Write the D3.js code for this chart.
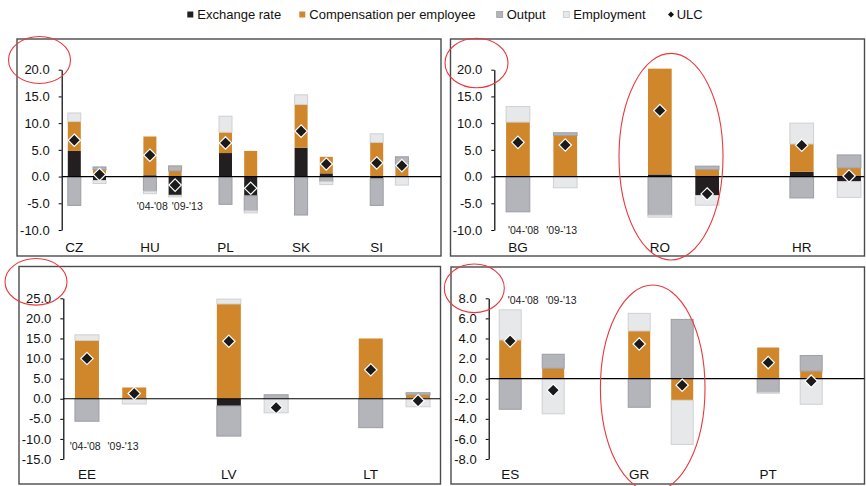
<!DOCTYPE html>
<html>
<head>
<meta charset="utf-8">
<script src="https://cdn.jsdelivr.net/npm/d3@7/dist/d3.min.js"></script>
<style>
  html, body { margin: 0; padding: 0; background: #fff; }
  svg { display: block; font-family: "Liberation Sans", Arial, sans-serif; }
</style>
</head>
<body>
<svg id="chart" width="866" height="486"></svg>
<script>
// ---------------- DATA ----------------
const seriesKeys = ["exch", "comp", "output", "emp"];
const legendLabels = ["Exchange rate", "Compensation per employee", "Output", "Employment", "ULC"];
const periodLabels = ["'04-'08", "'09-'13"];

// Panel 1
const countriesA = ["CZ", "HU", "PL", "SK", "SI"];
const exchA   = [4.8, -0.75, 0.25, -3.5, 4.4, -3.6, 5.4, 0.6, -0.4, 0];
const compA   = [5.5, 1.3, 7.25, 1.05, 3.9, 4.8, 8.1, 3.1, 6.4, 1.75];
const outputA = [-5.4, 0.5, -2.75, 0.95, -5.2, -2.8, -7.2, -0.95, -5.0, 1.95];
const empA    = [1.6, -0.55, -0.45, -0.3, 3.0, -0.4, 1.8, -0.55, 1.6, -1.6];
const ulcA    = [6.8, 0.4, 4.0, -1.6, 6.3, -2.2, 8.5, 2.35, 2.55, 2.05];
const ticksA  = [-10, -5, 0, 5, 10, 15, 20];

// Panel 2
const countriesB = ["BG", "RO", "HR"];
const exchB   = [0, 0, 0.4, -3.55, 0.9, -0.95];
const compB   = [10.2, 7.7, 19.8, 1.3, 5.2, 1.6];
const outputB = [-6.6, 0.5, -7.2, 0.65, -4.0, 2.45];
const empB    = [2.9, -2.1, -0.4, -1.8, 3.9, -2.95];
const ulcB    = [6.4, 5.9, 12.35, -3.25, 5.85, 0.1];
const ticksB  = [-10, -5, 0, 5, 10, 15, 20];

// Panel 3
const countriesC = ["EE", "LV", "LT"];
const exchC   = [0, 0, -1.8, 0, 0, 0];
const compC   = [14.5, 2.8, 23.6, 0, 15.0, 1.0];
const outputC = [-5.6, 0, -7.5, 1.0, -7.2, 0.5];
const empC    = [1.4, -1.3, 1.2, -3.5, 0, -2.0];
const ulcC    = [10.0, 1.3, 14.3, -2.2, 7.2, -0.5];
const ticksC  = [-15, -10, -5, 0, 5, 10, 15, 20, 25];

// Panel 4
const countriesD = ["ES", "GR", "PT"];
const exchD   = [0, 0, 0, 0, 0, 0];
const compD   = [3.85, 1.03, 4.75, -2.15, 3.1, 0.75];
const outputD = [-3.05, 1.4, -2.85, 5.9, -1.35, 1.55];
const empD    = [3.0, -3.5, 1.75, -4.4, -0.1, -2.55];
const ulcD    = [3.75, -1.15, 3.45, -0.65, 1.6, -0.25];
const ticksD  = [-8, -6, -4, -2, 0, 2, 4, 6, 8];

// ---------------- STYLE / LAYOUT ----------------
const colors = { exch: "#231f20", comp: "#d0872b", output: "#b3b5bb", emp: "#e7e8ea" };
const strokes = { exch: "none", comp: "none", output: "#9c9ea3", emp: "#cfd0d3" };

const svg = d3.select("#chart");

function buildRows(countries, exch, comp, output, emp, ulc) {
  const rows = [];
  countries.forEach((c, i) => {
    [0, 1].forEach(j => {
      const k = i * 2 + j;
      rows.push({ key: c + "|" + j, country: c, period: j,
        exch: exch[k], comp: comp[k], output: output[k], emp: emp[k], ulc: ulc[k] });
    });
  });
  return rows;
}

function drawPanel(cfg) {
  const rows = buildRows(cfg.countries, cfg.exch, cfg.comp, cfg.output, cfg.emp, cfg.ulc);
  const slots = [];
  cfg.countries.forEach(c => { slots.push(c + "|0", c + "|1", c + "|gap"); });

  const g = svg.append("g");
  // frame
  g.append("rect")
    .attr("x", cfg.frame.x).attr("y", cfg.frame.y)
    .attr("width", cfg.frame.w).attr("height", cfg.frame.h)
    .attr("fill", "none").attr("stroke", "#4a4a4a").attr("stroke-width", 1.4);

  const clipId = "clip" + cfg.id;
  svg.append("clipPath").attr("id", clipId).append("rect")
    .attr("x", cfg.frame.x).attr("y", cfg.frame.y)
    .attr("width", cfg.frame.w).attr("height", cfg.frame.h);

  const x = d3.scaleBand().domain(slots)
    .range([cfg.axisX, cfg.axisX + slots.length * cfg.slot]).padding(0);
  const y = d3.scaleLinear().domain(cfg.domain).range(cfg.yRange);

  const plot = g.append("g").attr("clip-path", `url(#${clipId})`);

  const stacked = d3.stack().keys(seriesKeys).offset(d3.stackOffsetDiverging)(rows);
  const bw = cfg.barW;
  const cx = key => x(key) + x.bandwidth() / 2;

  stacked.forEach(s => {
    plot.append("g").selectAll("rect").data(s.filter(d => d[1] !== d[0]))
      .join("rect")
      .attr("x", d => cx(d.data.key) - bw / 2)
      .attr("width", bw)
      .attr("y", d => y(Math.max(d[0], d[1])))
      .attr("height", d => Math.abs(y(d[0]) - y(d[1])))
      .attr("fill", colors[s.key])
      .attr("stroke", strokes[s.key])
      .attr("stroke-width", strokes[s.key] === "none" ? 0 : 1);
  });

  // zero line
  plot.append("line")
    .attr("x1", cfg.axisX).attr("x2", cfg.frame.x + cfg.frame.w)
    .attr("y1", y(0)).attr("y2", y(0))
    .attr("stroke", "#000").attr("stroke-width", 1.2);

  // ULC diamonds
  const ds = 6.2;
  plot.append("g").selectAll("path").data(rows).join("path")
    .attr("d", d => {
      const px = cx(d.key), py = y(d.ulc);
      return `M${px},${py - ds}L${px + ds},${py}L${px},${py + ds}L${px - ds},${py}Z`;
    })
    .attr("fill", "#1a1a1a").attr("stroke", "#fff").attr("stroke-width", 1.2);

  // y axis
  const axis = d3.axisLeft(y).tickValues(cfg.ticks).tickFormat(v => v.toFixed(1))
    .tickSize(3).tickSizeOuter(0).tickPadding(9);
  const ag = g.append("g").attr("transform", `translate(${cfg.axisX},0)`).call(axis);
  ag.select(".domain").attr("stroke", "#000").attr("stroke-width", 1.2);
  ag.selectAll(".tick line").attr("stroke", "#000");
  ag.selectAll("text").attr("font-size", 13).attr("fill", "#111")
    .attr("font-family", "'Liberation Sans', Arial, sans-serif");

  // category labels under the first bar of each pair
  g.append("g").selectAll("text").data(cfg.countries).join("text")
    .attr("x", c => cx(c + "|0"))
    .attr("y", cfg.catY)
    .attr("text-anchor", "middle")
    .attr("font-size", 13.5).attr("fill", "#111")
    .text(c => c);

  // period labels
  g.append("g").selectAll("text").data(periodLabels).join("text")
    .attr("x", (p, j) => cx(cfg.periodCountry + "|" + j) + cfg.periodDx[j])
    .attr("y", cfg.periodY)
    .attr("text-anchor", "middle")
    .attr("font-size", 10.5).attr("fill", "#222")
    .text(p => p);
}

drawPanel({ id: "A", countries: countriesA, exch: exchA, comp: compA, output: outputA, emp: empA, ulc: ulcA,
  ticks: ticksA, domain: [-10, 20], yRange: [230, 69.7],
  frame: { x: 17, y: 39, w: 424, h: 217 }, axisX: 61.7, slot: 25.2, barW: 13,
  catY: 251.5, periodCountry: "HU", periodDx: [2.4, 12.2], periodY: 210 });

drawPanel({ id: "B", countries: countriesB, exch: exchB, comp: compB, output: outputB, emp: empB, ulc: ulcB,
  ticks: ticksB, domain: [-10, 20], yRange: [230, 69.7],
  frame: { x: 450.5, y: 39, w: 414, h: 217 }, axisX: 494.3, slot: 47.3, barW: 23.7,
  catY: 251.5, periodCountry: "BG", periodDx: [5.5, -3.5], periodY: 234 });

drawPanel({ id: "C", countries: countriesC, exch: exchC, comp: compC, output: outputC, emp: empC, ulc: ulcC,
  ticks: ticksC, domain: [-15, 25], yRange: [459, 298.3],
  frame: { x: 19, y: 266.5, w: 421.5, h: 217.5 }, axisX: 63.3, slot: 47.3, barW: 24,
  catY: 479, periodCountry: "EE", periodDx: [-1.8, -11.2], periodY: 450 });

drawPanel({ id: "D", countries: countriesD, exch: exchD, comp: compD, output: outputD, emp: empD, ulc: ulcD,
  ticks: ticksD, domain: [-8, 8], yRange: [459, 298.3],
  frame: { x: 451, y: 267, w: 413.5, h: 217 }, axisX: 488.7, slot: 43, barW: 22,
  catY: 479, periodCountry: "ES", periodDx: [13, 8], periodY: 304 });

// ---------------- LEGEND ----------------
const legendX = [187.3, 299.3, 496.7, 563.3, 668.3];
const legendFill = [colors.exch, colors.comp, colors.output, colors.emp, "#111"];
const legendStroke = ["none", "none", "#9c9ea3", "#c8c9cc", "none"];
const lg = svg.append("g");
legendLabels.forEach((lab, i) => {
  if (i < 4) {
    lg.append("rect").attr("x", legendX[i]).attr("y", 11.5).attr("width", 6).attr("height", 6)
      .attr("fill", legendFill[i]).attr("stroke", legendStroke[i]).attr("stroke-width", legendStroke[i] === "none" ? 0 : 0.8);
    lg.append("text").attr("x", legendX[i] + 10).attr("y", 19).attr("font-size", 13).attr("fill", "#111").text(lab);
  } else {
    const px = legendX[i] + 2.7, py = 14.5, s = 3;
    lg.append("path").attr("d", `M${px},${py - s}L${px + s},${py}L${px},${py + s}L${px - s},${py}Z`).attr("fill", "#111");
    lg.append("text").attr("x", legendX[i] + 8.4).attr("y", 19).attr("font-size", 13).attr("fill", "#111").text(lab);
  }
});

// ---------------- ANNOTATION ELLIPSES ----------------
const ellipses = [
  { cx: 39.5, cy: 60, rx: 31, ry: 23.5 },
  { cx: 476.5, cy: 63, rx: 31.5, ry: 24.7 },
  { cx: 671, cy: 156.7, rx: 52, ry: 103.3 },
  { cx: 36, cy: 281.8, rx: 31, ry: 23.3 },
  { cx: 474.3, cy: 288.3, rx: 30, ry: 24.3 },
  { cx: 652.7, cy: 388.3, rx: 52.3, ry: 103.3 }
];
svg.append("g").selectAll("ellipse").data(ellipses).join("ellipse")
  .attr("cx", d => d.cx).attr("cy", d => d.cy).attr("rx", d => d.rx).attr("ry", d => d.ry)
  .attr("fill", "none").attr("stroke", "#e8393e").attr("stroke-width", 1.1);
</script>
</body>
</html>
